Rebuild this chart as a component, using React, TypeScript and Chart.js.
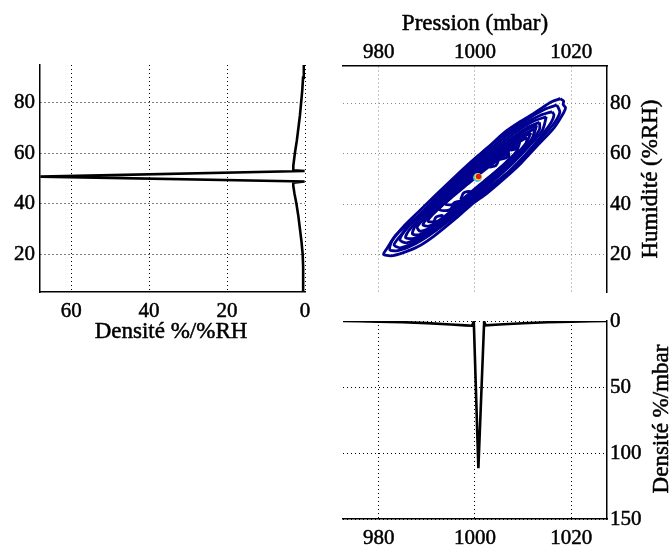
import React, { useEffect, useRef } from 'react';
import { Chart, registerables } from 'chart.js';

Chart.register(...registerables);

const FONT_FAMILY = "'Liberation Serif', 'Times New Roman', Times, serif";
const TICK_SIZE = 21;
const TITLE_SIZE = 23;
const TEXT_STROKE = 0.5;
const CONTOUR_COLOR = 'rgb(0, 0, 145)';

// ---- axis ranges and tick labels ----
const pressureRange = [972.6, 1027.4];
const humidityRange = [5, 95];
const humidityDensityRange = [0, 68];
const pressureDensityRange = [0, 150];
const pressureTicks = [980, 1000, 1020];
const humidityTicks = [20, 40, 60, 80];
const humidityDensityTicks = [0, 20, 40, 60];
const pressureDensityTicks = [0, 50, 100, 150];

// ---- axis titles ----
const pressureLabel = 'Pression (mbar)';
const humidityLabel = 'Humidité (%RH)';
const humidityDensityLabel = 'Densité %/%RH';
const pressureDensityLabel = 'Densité %/mbar';

// ---- marginal density of humidity (%RH -> %/%RH) ----
const humidityValues = [5, 10, 15, 20, 25, 30, 35, 40, 44, 47, 48.3, 48.8, 50.75, 52.95, 53.3, 55, 60, 65, 70, 75, 80, 85, 90, 95];
const humidityDensity = [0.4, 0.45, 0.5, 0.6, 0.9, 1.3, 1.7, 2.2, 2.7, 3.0, 3.0, 0.1, 67.9, 0.1, 3.0, 3.0, 2.6, 2.1, 1.7, 1.3, 1.0, 0.7, 0.5, 0.3];

// ---- marginal density of pressure (mbar -> %/mbar) ----
const pressureValues = [972.6, 976, 980, 985, 990, 995, 998, 999.4, 999.75, 1000.7, 1001.9, 1002.2, 1005, 1010, 1015, 1020, 1024, 1027.4];
const pressureDensity = [0.05, 0.2, 0.5, 0.9, 1.6, 2.6, 3.3, 3.6, 0.3, 111.6, 0.3, 3.3, 2.7, 1.7, 1.0, 0.5, 0.2, 0.05];

// ---- joint density contours [pression, humidité] ----
const contour1 = [[1017.7, 82.0], [1015.7, 80.6], [1014.0, 78.4], [1012.2, 76.1], [1009.5, 73.0], [1006.0, 68.4], [1002.6, 62.4], [999.1, 56.4], [995.7, 49.7], [992.2, 43.0], [988.8, 36.4], [986.0, 31.7], [983.6, 27.7], [981.5, 21.7], [981.0, 20.0], [982.5, 19.4], [985.0, 20.6], [988.1, 23.0], [991.5, 27.3], [995.7, 33.8], [999.1, 39.5], [1002.6, 44.5], [1006.0, 50.0], [1009.5, 56.2], [1012.9, 63.2], [1016.4, 70.4], [1018.4, 76.4], [1018.8, 78.4], [1018.3, 79.7], [1018.4, 81.0], [1017.7, 82.0]];
const contour1b = [[1017.0, 79.5], [1014.5, 77.8], [1011.5, 74.6], [1008.0, 70.2], [1004.0, 64.6], [1000.0, 58.2], [996.0, 51.2], [992.0, 43.9], [988.5, 37.4], [985.5, 31.8], [982.8, 25.5], [982.3, 21.8], [984.0, 21.5], [987.0, 23.6], [990.5, 27.6], [994.5, 33.2], [998.5, 39.3], [1002.5, 45.2], [1006.5, 51.6], [1010.0, 58.4], [1013.5, 65.6], [1016.5, 72.4], [1017.6, 76.6], [1017.0, 79.5]];
const contour2 = [[1016.0, 76.8], [1013.5, 75.3], [1010.5, 72.3], [1007.0, 67.8], [1003.0, 61.8], [999.0, 55.3], [995.0, 48.0], [991.0, 40.5], [987.5, 33.8], [985.0, 28.5], [983.2, 23.8], [984.5, 22.6], [987.5, 24.8], [991.0, 29.0], [995.0, 34.8], [999.0, 41.0], [1003.0, 46.8], [1007.0, 53.0], [1010.5, 59.8], [1013.5, 66.5], [1015.8, 72.5], [1016.4, 75.5], [1016.0, 76.8]];
const contour2b = [[1014.8, 74.8], [1012.0, 72.9], [1009.0, 69.4], [1005.5, 64.4], [1001.5, 58.3], [997.5, 51.7], [993.5, 44.6], [989.5, 37.4], [986.2, 31.2], [984.4, 25.8], [985.8, 24.6], [988.8, 27.0], [992.5, 31.6], [996.0, 37.1], [1000.0, 43.2], [1004.0, 49.6], [1007.8, 56.2], [1011.2, 63.0], [1014.0, 69.4], [1014.8, 74.8]];
const contour3 = [[1013.4, 72.6], [1011.0, 70.6], [1008.0, 66.8], [1004.0, 61.0], [1000.0, 54.8], [996.0, 48.0], [992.0, 40.8], [988.5, 34.3], [986.2, 29.3], [985.6, 26.6], [987.2, 26.3], [990.0, 28.9], [993.5, 33.6], [997.0, 39.2], [1001.0, 45.2], [1005.0, 51.6], [1008.5, 58.0], [1011.5, 64.4], [1013.4, 69.8], [1013.4, 72.6]];
const contour3b = [[1012.8, 71.4], [1010.0, 68.8], [1006.8, 64.4], [1003.0, 58.7], [999.0, 52.3], [995.0, 45.5], [991.2, 38.6], [988.0, 32.6], [987.0, 28.2], [988.4, 27.8], [991.0, 30.4], [994.5, 35.0], [998.0, 40.6], [1001.5, 46.2], [1005.5, 52.6], [1009.0, 59.3], [1011.8, 65.7], [1012.8, 71.4]];
const contour4 = [[1012.4, 70.0], [1009.5, 67.2], [1006.0, 62.3], [1002.0, 56.3], [998.0, 49.5], [994.0, 42.6], [990.5, 36.2], [988.0, 31.0], [988.6, 29.2], [991.5, 31.4], [995.0, 36.0], [998.5, 41.5], [1002.0, 47.0], [1006.0, 53.4], [1009.5, 60.3], [1012.0, 66.6], [1012.4, 70.0]];
const contour4b = [[1011.6, 68.4], [1008.8, 65.4], [1005.3, 60.5], [1001.5, 54.6], [997.8, 48.3], [994.0, 41.8], [990.8, 36.0], [989.2, 31.8], [990.4, 31.2], [993.2, 34.2], [996.7, 39.2], [1000.2, 44.7], [1003.8, 50.6], [1007.2, 56.8], [1010.2, 62.6], [1011.6, 68.4]];
const contour5 = [[1010.8, 66.6], [1008.0, 63.4], [1004.5, 58.4], [1001.0, 52.9], [997.5, 47.0], [994.0, 41.0], [991.2, 35.8], [990.2, 33.2], [992.2, 33.2], [995.0, 37.2], [998.5, 42.7], [1002.0, 48.2], [1005.5, 54.1], [1008.5, 59.6], [1010.6, 64.3], [1010.8, 66.6]];
const contour6 = [[1009.0, 63.6], [1006.0, 60.0], [1003.0, 55.5], [1000.0, 50.9], [997.0, 46.0], [994.0, 41.0], [992.6, 37.8], [994.6, 37.6], [997.5, 41.6], [1000.5, 46.6], [1003.5, 51.6], [1006.5, 56.6], [1008.8, 61.4], [1009.0, 63.6]];
const contour6b = [[1007.0, 60.5], [1004.5, 57.2], [1001.5, 52.8], [998.5, 48.0], [995.5, 43.2], [993.8, 40.0], [995.8, 39.9], [998.8, 44.2], [1001.8, 49.0], [1004.8, 53.8], [1007.0, 58.0], [1007.0, 60.5]];
const island1 = [[991.35, 32.35], [991.9, 34.8], [993.25, 35.45], [992.7, 33.0], [991.35, 32.35]];
const island2 = [[995.05, 37.95], [995.6, 40.4], [996.95, 41.05], [996.4, 38.6], [995.05, 37.95]];
const island3 = [[997.05, 41.95], [997.6, 44.4], [998.95, 45.05], [998.4, 42.6], [997.05, 41.95]];
const island4 = [[1002.95, 54.65], [1003.5, 57.1], [1004.85, 57.75], [1004.3, 55.3], [1002.95, 54.65]];
const island5 = [[1005.05, 57.75], [1005.6, 60.2], [1006.95, 60.85], [1006.4, 58.4], [1005.05, 57.75]];
const island6 = [[1007.35, 61.45], [1007.9, 63.9], [1009.25, 64.55], [1008.7, 62.1], [1007.35, 61.45]];
const peakOuter = [[1000.5, 50.6]];
const peakMiddle = [[1000.65, 50.85]];
const peakInner = [[1000.75, 51.0]];

const contours = [contour1, contour1b, contour2, contour2b, contour3, contour3b, contour4, contour4b, contour5, contour6, contour6b, island1, island2, island3, island4, island5, island6];

type Side = 'left' | 'right' | 'top' | 'bottom';

function axis(position: Side, range: number[], ticks: number[], size: number, pad: number, gridColor: string, reverse = false) {
  const horizontal = position === 'top' || position === 'bottom';
  return {
    type: 'linear',
    position,
    min: range[0],
    max: range[1],
    reverse,
    afterBuildTicks: (s: any) => {
      s.ticks = ticks.map((v) => ({ value: v }));
    },
    afterFit: (s: any) => {
      if (horizontal) s.height = size;
      else s.width = size;
      s.paddingLeft = 0;
      s.paddingRight = 0;
      s.paddingTop = 0;
      s.paddingBottom = 0;
    },
    ticks: {
      padding: pad,
      color: '#000',
      textStrokeColor: '#000',
      textStrokeWidth: TEXT_STROKE,
      autoSkip: false,
      maxRotation: 0,
      minRotation: 0,
      font: { family: FONT_FAMILY, size: TICK_SIZE },
      callback: (v: any) => String(v),
    },
    grid: { color: gridColor, lineWidth: 1, drawTicks: false },
    border: { display: true, color: '#000', width: 1.5, dash: [1, 3] },
  };
}

type Area = { left: number; right: number; top: number; bottom: number };
type TitleSpec = { text: string; place: (a: Area) => [number, number]; rotate?: number };

function titlePlugin(specs: TitleSpec[]) {
  return {
    id: 'axisTitles',
    afterDraw(chart: any) {
      const { ctx, chartArea } = chart;
      ctx.save();
      ctx.font = `${TITLE_SIZE}px ${FONT_FAMILY}`;
      ctx.fillStyle = '#000';
      ctx.strokeStyle = '#000';
      ctx.lineWidth = TEXT_STROKE;
      ctx.textAlign = 'center';
      ctx.textBaseline = 'alphabetic';
      specs.forEach((s) => {
        const [x, y] = s.place(chartArea);
        ctx.save();
        ctx.translate(x, y);
        if (s.rotate) ctx.rotate(s.rotate);
        ctx.strokeText(s.text, 0, 0);
        ctx.fillText(s.text, 0, 0);
        ctx.restore();
      });
      ctx.restore();
    },
  };
}

function baseOptions(padding: any, scales: any) {
  return {
    responsive: false,
    animation: false,
    devicePixelRatio: 1,
    events: [],
    layout: { padding, autoPadding: false },
    plugins: { legend: { display: false }, tooltip: { enabled: false }, title: { display: false } },
    scales,
  };
}

function lineSet(points: { x: number; y: number }[], color: string, width: number, tension = 0) {
  return {
    data: points,
    showLine: true,
    borderColor: color,
    borderWidth: width,
    pointRadius: 0,
    fill: false,
    tension,
  };
}

function humidityConfig(): any {
  const pts = humidityValues.map((h, i) => ({ x: humidityDensity[i], y: h }));
  return {
    type: 'scatter',
    data: { datasets: [lineSet(pts, '#000', 2.6)] },
    options: baseOptions(
      { left: 0, top: 65, right: 365, bottom: 194 },
      {
        x: axis('bottom', humidityDensityRange, humidityDensityTicks, 60, 6.5, '#000', true),
        y: axis('left', humidityRange, humidityTicks, 40, 5, '#000'),
      }
    ),
    plugins: [
      titlePlugin([
        { text: humidityDensityLabel, place: (a) => [(a.left + a.right) / 2 - 1.5, a.bottom + 46.3] },
      ]),
    ],
  };
}

function contourConfig(): any {
  const dot = (pts: number[][], color: string, r: number) => ({
    data: pts.map(([p, h]) => ({ x: p, y: h })),
    showLine: false,
    pointRadius: r,
    pointBackgroundColor: color,
    pointBorderWidth: 0,
    borderColor: color,
  });
  // first dataset is drawn on top
  const sets: any[] = [
    dot(peakInner, 'rgb(230, 25, 15)', 2.8),
    dot(peakMiddle, 'rgb(245, 225, 30)', 3.6),
    dot(peakOuter, 'rgb(40, 190, 255)', 4.4),
  ];
  contours.forEach((c) => {
    sets.push(lineSet(c.map(([p, h]) => ({ x: p, y: h })), CONTOUR_COLOR, 2.8, 0.25));
  });
  return {
    type: 'scatter',
    data: { datasets: sets },
    options: baseOptions(
      { left: 343, top: 26, right: 13, bottom: 254 },
      {
        x: axis('top', pressureRange, pressureTicks, 40, 1, '#8a8a8a'),
        y: axis('right', humidityRange, humidityTicks, 50, 3, '#8a8a8a'),
      }
    ),
    plugins: [
      titlePlugin([
        { text: pressureLabel, place: (a) => [(a.left + a.right) / 2, a.top - 36] },
        { text: humidityLabel, place: (a) => [a.right + 50, (a.top + a.bottom) / 2], rotate: -Math.PI / 2 },
      ]),
    ],
  };
}

function pressureConfig(): any {
  const pts = pressureValues.map((p, i) => ({ x: p, y: pressureDensity[i] }));
  return {
    type: 'scatter',
    data: { datasets: [lineSet(pts, '#000', 2.6)] },
    options: baseOptions(
      { left: 343, top: 321, right: 13, bottom: 0 },
      {
        x: axis('bottom', pressureRange, pressureTicks, 27, 6.5, '#000'),
        y: axis('right', pressureDensityRange, pressureDensityTicks, 50, 3, '#000', true),
      }
    ),
    plugins: [
      titlePlugin([
        { text: pressureDensityLabel, place: (a) => [a.right + 61, (a.top + a.bottom) / 2 - 1], rotate: -Math.PI / 2 },
      ]),
    ],
  };
}

export default function App() {
  const r1 = useRef<HTMLCanvasElement>(null);
  const r2 = useRef<HTMLCanvasElement>(null);
  const r3 = useRef<HTMLCanvasElement>(null);

  useEffect(() => {
    const charts = [
      new Chart(r1.current as HTMLCanvasElement, humidityConfig()),
      new Chart(r2.current as HTMLCanvasElement, contourConfig()),
      new Chart(r3.current as HTMLCanvasElement, pressureConfig()),
    ];
    return () => charts.forEach((c) => c.destroy());
  }, []);

  const cs: React.CSSProperties = { position: 'absolute', left: 0, top: 0 };
  return (
    <div style={{ position: 'absolute', left: 0, top: 0, width: 670, height: 546, background: '#fff' }}>
      <canvas ref={r1} width={670} height={546} style={cs} />
      <canvas ref={r2} width={670} height={546} style={cs} />
      <canvas ref={r3} width={670} height={546} style={cs} />
    </div>
  );
}
